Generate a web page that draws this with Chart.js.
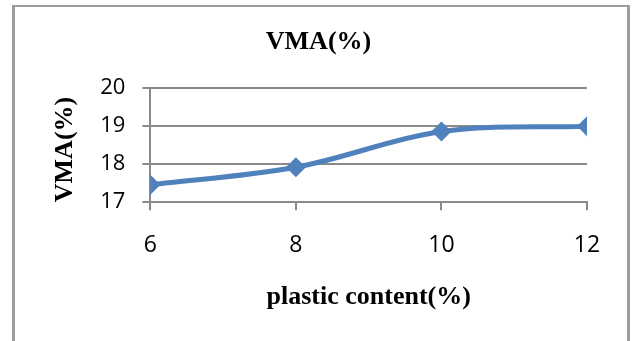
<!DOCTYPE html>
<html>
<head>
<meta charset="utf-8">
<script src="https://cdn.jsdelivr.net/npm/chart.js@4.4.1/dist/chart.umd.min.js"></script>
<style>
   body { margin: 0; background: #fff; }
   .frame { position: absolute; left: 12px; top: 5px; width: 612px; height: 400px;
            border: 3px solid #9c9c9c; border-top-width: 2px; }
   #vmaChart { position: absolute; left: 0; top: 0; }
</style>
</head>
<body>
<div class="frame"></div>
<canvas id="vmaChart" width="633" height="341"></canvas>
<script>
// data
const plasticContent = [6, 8, 10, 12]
const vmaValues = [17.46, 17.92, 18.86, 19.0]
const xTicks = [6, 8, 10, 12]
const yTicks = [17, 18, 19, 20]

const gridGray = '#8a8a8a'
const lineBlue = '#4F81BD'
const serifBold = (size) => ({ family: 'Liberation Serif', size: size, weight: 'bold' })
const tickFont = (size) => ({ family: 'Open Sans', size: size })

const points = plasticContent.map((x, i) => ({ x: x, y: vmaValues[i] }))

const ctx = document.getElementById('vmaChart')
const vmaChart = new Chart(ctx, {
   type: 'line',
   data: {
      datasets: [{
         data: points,
         borderColor: lineBlue,
         backgroundColor: lineBlue,
         borderWidth: 5,
         pointStyle: 'rectRot',
         pointRadius: 10,
         pointBorderWidth: 0,
         tension: 0.35
      }]
   },
   options: {
      responsive: false,
      animation: false,
      devicePixelRatio: 1,
      layout: { padding: { left: 50, right: 46, top: 0, bottom: 28 } },
      plugins: {
         legend: { display: false },
         tooltip: { enabled: false },
         title: {
            display: true,
            text: 'VMA(%)',
            color: '#000',
            font: serifBold(26),
            padding: { top: 27, bottom: 30 }
         }
      },
      scales: {
         x: {
            type: 'linear',
            min: 6,
            max: 12,
            afterBuildTicks: (scale) => { scale.ticks = xTicks.map(v => ({ value: v })) },
            ticks: { color: '#000', font: tickFont(23), padding: 21 },
            grid: { drawOnChartArea: false, drawTicks: true, tickLength: 8, color: gridGray, lineWidth: 2 },
            border: { color: gridGray, width: 2 },
            title: {
               display: true,
               text: 'plastic content(%)',
               color: '#000',
               font: serifBold(26),
               padding: { top: 2, bottom: 0 }
            }
         },
         y: {
            min: 17,
            max: 20,
            afterBuildTicks: (scale) => { scale.ticks = yTicks.map(v => ({ value: v })) },
            ticks: { color: '#000', font: tickFont(22), padding: 17 },
            grid: { color: gridGray, lineWidth: 2, tickLength: 8 },
            border: { color: gridGray, width: 2 },
            title: {
               display: true,
               text: 'VMA(%)',
               align: 'start',
               color: '#000',
               font: serifBold(26),
               padding: { top: 0, bottom: 2 }
            }
         }
      }
   }
})
</script>
</body>
</html>
